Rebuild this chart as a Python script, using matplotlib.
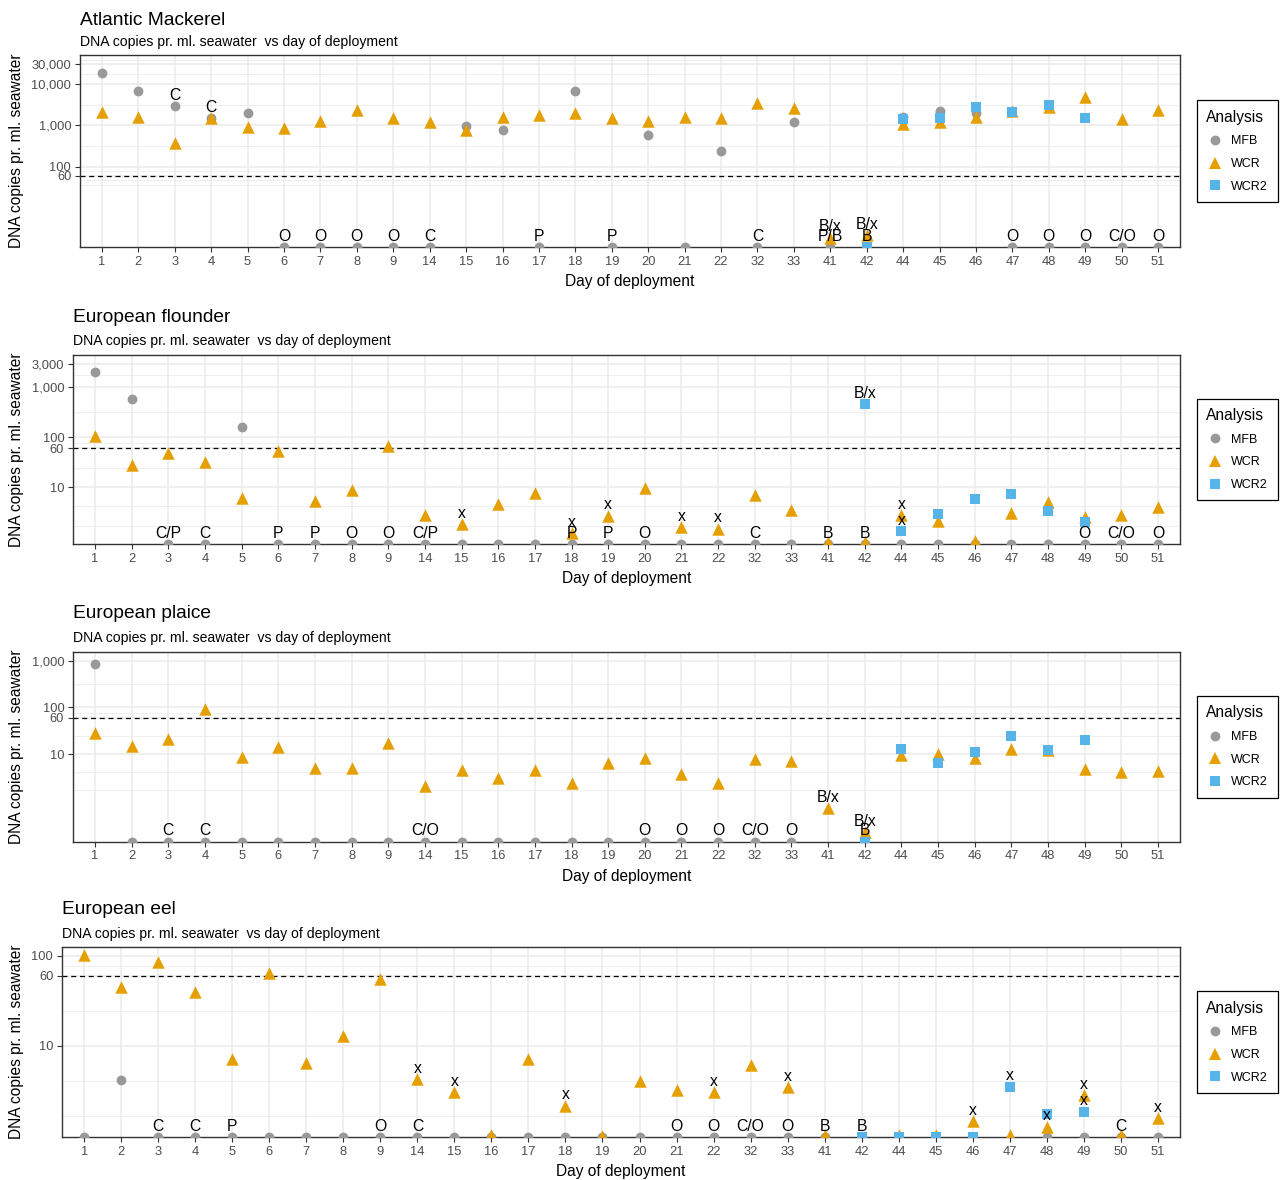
import matplotlib
matplotlib.use("Agg")
import matplotlib.pyplot as plt
import numpy as np
from matplotlib.lines import Line2D
from matplotlib.ticker import FixedLocator, NullFormatter

plt.rcParams["font.family"] = ["Liberation Sans", "DejaVu Sans"]

# ---------------------------------------------------------------------------
# Data (DNA copies per ml seawater, 0 = not detected, nan = not analysed)
# ---------------------------------------------------------------------------
nan = np.nan
days = [1, 2, 3, 4, 5, 6, 7, 8, 9, 14, 15, 16, 17, 18, 19, 20, 21, 22,
        32, 33, 41, 42, 44, 45, 46, 47, 48, 49, 50, 51]

# Atlantic Mackerel
mackerel_mfb = [18600, 6800, 2950, 1500, 2030, 0, 0, 0, 0, 0, 980, 760, 0, 6800, 0,
                590, 0, 235, 0, 1180, 0, nan, 1600, 2230, 2030, 0, 0, 0, 0, 0]
mackerel_wcr = [2140, 1560, 370, 1480, 930, 850, 1300, 2350, 1480, 1180, 770, 1620,
                1780, 1950, 1480, 1300, 1560, 1480, 3400, 2670, 1.9, 2.2, 1080, 1230,
                1560, 2230, 2750, 4800, 1450, 2350]
mackerel_wcr2 = [nan] * 21 + [0, 1450, 1500, 2820, 2140, 3050, 1500, nan, nan]
mackerel_mfb_lab = {3: "C", 4: "C", 6: "O", 7: "O", 8: "O", 9: "O", 14: "C", 17: "P",
                    19: "P", 32: "C", 41: "P/B", 47: "O", 48: "O", 49: "O", 50: "C/O", 51: "O"}
mackerel_wcr_lab = {41: "B/x", 42: "B/x"}
mackerel_wcr2_lab = {42: "B"}

# European flounder
flounder_mfb = [2040, 590, 0, 0, 158, 0, 0, 0, 0, 0, 0, 0, 0, 0, 0,
                0, 0, 0, 0, 0, 0, 0, 0, 0, 0, 0, 0, 0, 0, 0]
flounder_wcr = [105, 27.6, 47.5, 31.7, 5.9, 53.5, 5.3, 8.7, 67.5, 2.8, 1.8, 4.5, 7.5,
                1.18, 2.65, 9.4, 1.55, 1.45, 6.9, 3.5, 0.8, 0.8, 2.75, 2.1, 0.83, 3.0,
                4.9, 2.5, 2.8, 4.0]
flounder_wcr2 = [nan] * 21 + [455, 1.3, 2.9, 5.7, 7.2, 3.3, 1.95, nan, nan]
flounder_mfb_lab = {3: "C/P", 4: "C", 6: "P", 7: "P", 8: "O", 9: "O", 14: "C/P", 18: "P",
                    19: "P", 20: "O", 32: "C", 41: "B", 42: "B", 49: "O", 50: "C/O", 51: "O"}
flounder_wcr_lab = {15: "x", 18: "x", 19: "x", 21: "x", 22: "x", 44: "x"}
flounder_wcr2_lab = {42: "B/x", 44: "x"}

# European plaice
plaice_mfb = [830] + [0] * 19 + [nan] * 10
plaice_wcr = [27.8, 15, 21, 92, 8.7, 14.3, 5.0, 5.0, 17, 2.05, 4.55, 3.0, 4.55, 2.4, 6.5,
              8.1, 3.7, 2.4, 7.8, 7.0, 0.69, 0.21, 9.5, 10, 8.3, 12.6, 12, 4.8, 4.1, 4.3]
plaice_wcr2 = [nan] * 21 + [0, 12.8, 6.4, 11.2, 24.6, 12.2, 19.6, nan, nan]
plaice_mfb_lab = {3: "C", 4: "C", 14: "C/O", 20: "O", 21: "O", 22: "O", 32: "C/O", 33: "O"}
plaice_wcr_lab = {41: "B/x", 42: "B/x"}
plaice_wcr2_lab = {42: "B"}

# European eel
eel_mfb = [0, 4.2, 0, 0, 0, 0, 0, 0, 0, 0, 0, 0, 0, 0, 0, 0, 0, 0, 0, 0, 0, 0,
           nan, nan, nan, nan, 0, 0, 0, 0]
eel_wcr = [102, 44.7, 85, 39.8, 7.1, 64.5, 6.4, 13, 54.6, 4.3, 3.1, 1.03, 7.1, 2.18, 1.02,
           4.1, 3.25, 3.1, 6.2, 3.5, 1.03, nan, 1.04, 1.04, 1.48, 1.03, 1.28, 2.87, 1.03, 1.58]
eel_wcr2 = [nan] * 21 + [0, 0, 0, 0, 3.55, 1.75, 1.87, nan, nan]
eel_mfb_lab = {3: "C", 4: "C", 5: "P", 9: "O", 14: "C", 21: "O", 22: "O", 32: "C/O",
               33: "O", 41: "B", 42: "B", 50: "C"}
eel_wcr_lab = {14: "x", 15: "x", 18: "x", 22: "x", 33: "x", 46: "x", 48: "x", 49: "x", 51: "x"}
eel_wcr2_lab = {47: "x", 49: "x"}

mackerel_breaks = [60, 100, 1000, 10000, 30000]
flounder_breaks = [10, 60, 100, 1000, 3000]
plaice_breaks = [10, 60, 100, 1000]
eel_breaks = [10, 60, 100]

THRESHOLD = 60
SUBTITLE = "DNA copies pr. ml. seawater  vs day of deployment"

# ---------------------------------------------------------------------------
# Layout (pixels) and style
# ---------------------------------------------------------------------------
W, H = 1282, 1180
RIGHT = 1180
LEG_X = 1197

COLORS = {"MFB": "#999999", "WCR": "#E69F00", "WCR2": "#56B4E9"}
MARKERS = {"MFB": ("o", 50), "WCR": ("^", 80), "WCR2": ("s", 56)}
GRID = "#EBEBEB"
TICK_COL = "#4D4D4D"

panels = [
    dict(title="Atlantic Mackerel", left=80, top=55, bottom=247.3, title_y=25, sub_y=46,
         ylim=(0.051, 4.701), breaks=mackerel_breaks,
         series=[("MFB", mackerel_mfb, mackerel_mfb_lab), ("WCR", mackerel_wcr, mackerel_wcr_lab),
                 ("WCR2", mackerel_wcr2, mackerel_wcr2_lab)]),
    dict(title="European flounder", left=73, top=355, bottom=544.3, title_y=322, sub_y=345,
         ylim=(-0.149, 3.648), breaks=flounder_breaks,
         series=[("MFB", flounder_mfb, flounder_mfb_lab), ("WCR", flounder_wcr, flounder_wcr_lab),
                 ("WCR2", flounder_wcr2, flounder_wcr2_lab)]),
    dict(title="European plaice", left=73, top=651.7, bottom=841.7, title_y=618, sub_y=642,
         ylim=(-0.880, 3.193), breaks=plaice_breaks,
         series=[("MFB", plaice_mfb, plaice_mfb_lab), ("WCR", plaice_wcr, plaice_wcr_lab),
                 ("WCR2", plaice_wcr2, plaice_wcr2_lab)]),
    dict(title="European eel", left=62, top=947.3, bottom=1137, title_y=914, sub_y=938,
         ylim=(-0.008, 2.093), breaks=eel_breaks,
         series=[("MFB", eel_mfb, eel_mfb_lab), ("WCR", eel_wcr, eel_wcr_lab),
                 ("WCR2", eel_wcr2, eel_wcr2_lab)]),
]


def minor_breaks(major, lo, hi):
    # ggplot-style minor breaks: midpoints in transformed space, extended one step
    b = [np.log10(v) for v in major if lo <= np.log10(v) <= hi]
    bd = b[1] - b[0]
    if lo < b[0]:
        b = [b[0] - bd] + b
    if hi > b[-1]:
        b = b + [b[-1] + bd]
    out = []
    for a, c in zip(b[:-1], b[1:]):
        out += [a, (a + c) / 2]
    out.append(b[-1])
    return [10 ** t for t in out if lo <= t <= hi]


def draw_panel(fig, p):
    left, top, bottom = p["left"], p["top"], p["bottom"]
    ax = fig.add_axes([left / W, 1 - bottom / H, (RIGHT - left) / W, (bottom - top) / H])
    lo, hi = p["ylim"]
    ax.set_yscale("log")
    ax.set_ylim(10 ** lo, 10 ** hi)
    ax.set_xlim(-0.6, len(days) - 1 + 0.6)
    x = np.arange(len(days))
    ybot = 10 ** lo

    for name, vals, labels in p["series"]:
        v = np.array(vals, dtype=float)
        y = np.where(v == 0, ybot, v)   # not detected -> drawn on the panel floor
        mk, s = MARKERS[name]
        z = {"MFB": 3, "WCR": 4, "WCR2": 5}[name]
        ax.scatter(x, y, marker=mk, s=s, color=COLORS[name], linewidths=0, zorder=z)
        for day, txt in labels.items():
            i = days.index(day)
            ax.annotate(txt, (i, y[i]), xytext=(0, 4.6), textcoords="offset points",
                        ha="center", va="baseline", fontsize=11.3, color="black",
                        annotation_clip=False, zorder=7)

    ax.axhline(THRESHOLD, color="black", lw=0.9, ls=(0, (4, 3)), zorder=2)

    breaks = [b for b in p["breaks"] if lo <= np.log10(b) <= hi]
    ax.set_yticks(breaks)
    ax.set_yticklabels([f"{b:,}" for b in breaks])
    ax.yaxis.set_minor_locator(FixedLocator(minor_breaks(p["breaks"], lo, hi)))
    ax.yaxis.set_minor_formatter(NullFormatter())
    ax.set_xticks(x)
    ax.set_xticklabels([str(d) for d in days])

    ax.grid(which="major", color=GRID, lw=1.1, zorder=0)
    ax.grid(which="minor", axis="y", color=GRID, lw=0.55, zorder=0)
    ax.set_axisbelow(True)
    ax.tick_params(which="major", length=3.8, width=0.8, color="#333333",
                   labelsize=9.3, labelcolor=TICK_COL, pad=2.5)
    ax.tick_params(which="minor", length=0)
    for sp in ax.spines.values():
        sp.set_color("#333333")
        sp.set_linewidth(1.0)

    ax.set_xlabel("Day of deployment", fontsize=11.2)
    ax.xaxis.set_label_coords(0.5, -(281.7 - 247.3) / (bottom - top))
    ax.xaxis.label.set_va("center")
    ax.set_ylabel("DNA copies pr. ml. seawater", fontsize=11.2)
    ax.yaxis.set_label_coords((17 - left) / (RIGHT - left), 0.5)
    ax.yaxis.label.set_va("center")

    fig.text(left / W, 1 - p["title_y"] / H, p["title"], fontsize=13.8, va="baseline")
    fig.text(left / W, 1 - p["sub_y"] / H, SUBTITLE, fontsize=10.1, va="baseline")

    handles = [Line2D([0], [0], marker=MARKERS[n][0], ls="", color=COLORS[n],
                      markersize=np.sqrt(MARKERS[n][1]), markeredgewidth=0)
               for n in ["MFB", "WCR", "WCR2"]]
    leg = ax.legend(handles, ["MFB", "WCR", "WCR2"], title="Analysis",
                    loc="center left", bbox_to_anchor=((LEG_X - left) / (RIGHT - left), 0.5),
                    borderaxespad=0, frameon=True, fancybox=False, framealpha=1,
                    edgecolor="black", fontsize=9, title_fontsize=11.2, alignment="left",
                    handlelength=1.45, handletextpad=0.55, labelspacing=0.85, borderpad=0.75)
    leg.get_frame().set_linewidth(0.9)
    return ax


fig = plt.figure(figsize=(W / 100, H / 100), dpi=100)
for p in panels:
    draw_panel(fig, p)

fig.savefig("out.png", dpi=100)
